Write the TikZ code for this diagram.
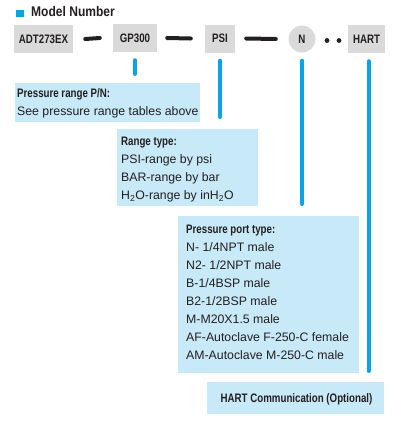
\documentclass[tikz,border=0pt]{standalone}
\usepackage{fontspec}
\setmainfont{Liberation Sans}
\newfontfamily\condb{Liberation Sans}[FakeStretch=0.79]
\newfontfamily\titlefont{Liberation Sans}[FakeStretch=0.86]
\definecolor{lblue}{HTML}{C8E9F8}
\definecolor{cblue}{HTML}{0CA3E6}
\definecolor{gbox}{HTML}{DADADA}
\definecolor{ink}{HTML}{231F20}
\begin{document}
\begin{tikzpicture}[x=1pt,y=-1pt,
  code/.style={fill=gbox, inner sep=0, minimum height=28pt, text=ink,
    font=\condb\bfseries\fontsize{12.3}{14}\selectfont},
  dashline/.style={line width=4pt, line cap=round, ink},
  bline/.style={line width=4pt, line cap=round, cblue},
  pbox/.style={fill=lblue, inner sep=0, anchor=north west},
  ptext/.style={anchor=base west, align=left, inner sep=0, text=ink,
    font=\fontsize{12.3}{18}\selectfont},
  hd/.style={font=\condb\bfseries\fontsize{12.3}{18}\selectfont}]
\useasboundingbox (0,0) rectangle (419,421);
% title
\fill[cblue] (15.5,10) rectangle (23.5,17);
\node[anchor=base west, inner sep=0, text=ink, font=\titlefont\bfseries\fontsize{14}{16}\selectfont] (title) at (31,16.3) {Model Number};
% code boxes
\node[code, minimum width=59pt] (adt) at (43.5,39) {ADT273EX};
\node[code, minimum width=44pt] (gp) at (135,38) {GP300};
\node[code, minimum width=30pt] (psi) at (220,38.5) {PSI};
\node[code, circle, minimum size=27pt] (n) at (302,39) {N};
\node[code, minimum width=37pt] (hart) at (366.5,39) {HART};
% dashes
\draw[dashline] ([xshift=12pt]adt.east) -- ([xshift=-13pt]gp.west);
\draw[dashline] ([xshift=10pt]gp.east) -- ([xshift=-14pt]psi.west);
\draw[dashline] ([xshift=11pt]psi.east) -- ([xshift=-12.5pt]n.west);
\fill[ink] (327,40.5) circle (2.4) (339,40.5) circle (2.4);
% panels
\node[pbox, minimum width=185pt, minimum height=39pt] (b1) at (15,83) {};
\node[pbox, minimum width=141pt, minimum height=77pt] (b2) at (117,129) {};
\node[pbox, minimum width=181pt, minimum height=157pt] (b3) at (178,216) {};
\node[pbox, minimum width=177pt, minimum height=32pt] (b4) at (207,382) {};
% panel texts (base = baseline of last line)
\node[ptext] (t1) at (17,115.5) {{\condb\bfseries Pressure range P/N:}\\See pressure range tables above};
\node[ptext] (t2) at (121,199.5) {{\condb\bfseries Range type:}\\PSI-range by psi\\BAR-range by bar\\H\textsubscript{2}O-range by inH\textsubscript{2}O};
\node[ptext] (t3) at (186,359.5) {{\condb\bfseries Pressure port type:}\\N- 1/4NPT male\\N2- 1/2NPT male\\B-1/4BSP male\\B2-1/2BSP male\\M-M20X1.5 male\\AF-Autoclave F-250-C female\\AM-Autoclave M-250-C male};
\node[anchor=base, inner sep=0, text=ink, hd] (t4) at (296.5,402.3) {HART Communication (Optional)};
% connectors
\draw[bline] ([yshift=-8pt]gp.south) -- ([yshift=9pt]b1.north -| gp.south);
\draw[bline] ([yshift=-8pt]psi.south) -- ([yshift=12pt]b2.north -| psi.south);
\draw[bline] ([yshift=-8pt]n.south) -- ([yshift=12pt]b3.north -| n.south);
\draw[bline] ([xshift=2pt,yshift=-8pt]hart.south) -- ([xshift=2pt,yshift=11pt]b4.north -| hart.south);
\end{tikzpicture}
\end{document}
